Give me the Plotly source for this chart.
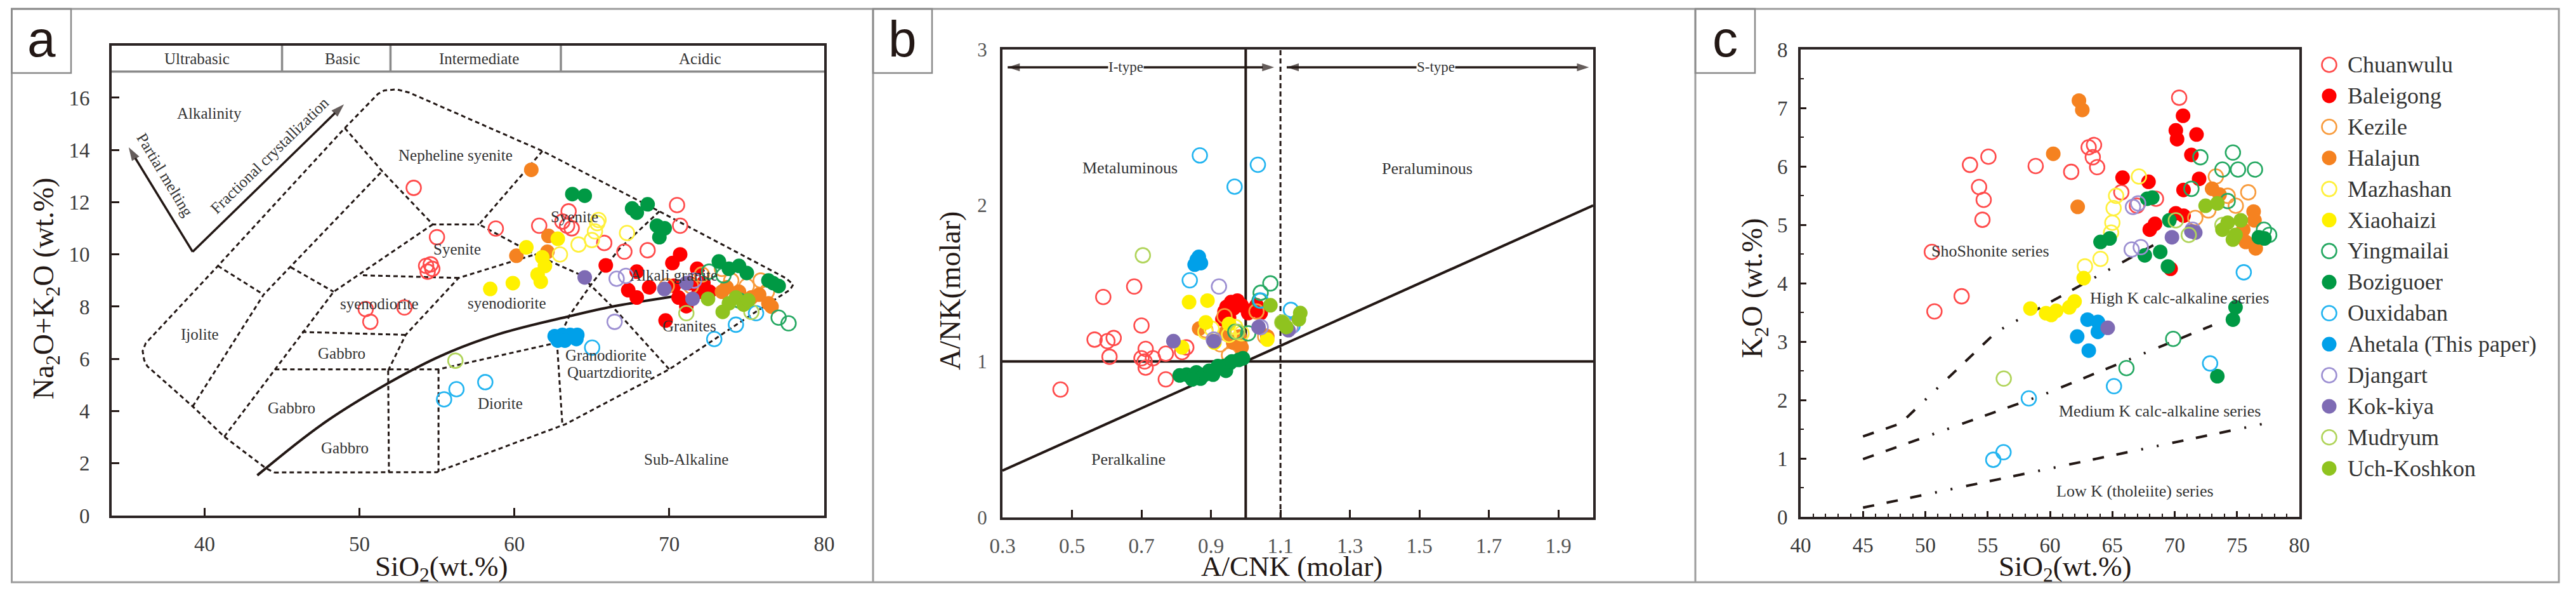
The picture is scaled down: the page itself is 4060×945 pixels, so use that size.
import plotly.graph_objects as go

W, H = 4060, 945
SERIF = "Liberation Serif, Times New Roman, serif"
SANS = "Liberation Sans, Arial, sans-serif"
INK = "#231815"

# ---------------- series meta ----------------
SERIES = ["Chuanwulu", "Baleigong", "Kezile", "Halajun", "Mazhashan", "Xiaohaizi",
          "Yingmailai", "Boziguoer", "Ouxidaban", "Ahetala (This paper)", "Djangart",
          "Kok-kiya", "Mudryum", "Uch-Koshkon"]
COLORS = ["#FF4A4A", "#FF0000", "#F89B3C", "#F58220", "#FFF03C", "#FFF100",
          "#25A862", "#009944", "#22B4F0", "#00A0E9", "#9C8FD2", "#7E6BB4",
          "#B0D45A", "#8FC31F"]
FILLED = [False, True, False, True, False, True, False, True, False, True, False, True, False, True]

# ---------------- panel a : TAS (SiO2 vs Na2O+K2O) ----------------
tas_chuanwulu_x = [53.5, 55.0, 54.3, 54.6, 54.7, 54.4, 50.4, 50.7, 52.9, 58.8, 61.6, 63.5, 63.1, 63.4, 63.7, 65.8, 67.1, 68.6, 70.5, 70.7]
tas_chuanwulu_y = [12.55, 10.66, 9.56, 9.62, 9.45, 9.34, 7.91, 7.42, 7.97, 10.99, 11.1, 11.65, 11.26, 11.1, 11.0, 10.44, 10.11, 10.16, 11.89, 11.1]
tas_baleigong_x = [65.9, 67.35, 67.9, 67.9, 68.7, 70.2, 70.7, 70.3, 70.6, 71.1, 71.8, 72.2, 71.3, 69.76, 72.6, 71.9]
tas_baleigong_y = [9.58, 8.63, 8.35, 9.34, 8.74, 9.67, 10.0, 8.8, 8.35, 8.02, 9.45, 8.9, 8.9, 7.47, 8.57, 8.57]
tas_kezile_x = [69.84, 71.4, 72.1, 73.4, 74.0, 75.9, 75.0, 76.3]
tas_kezile_y = [8.79, 8.79, 9.23, 9.45, 9.0, 9.0, 8.79, 8.57]
tas_halajun_x = [61.09, 60.13, 62.2, 62.13, 73.7, 74.5, 75.3, 75.8, 76.4, 76.6, 73.4]
tas_halajun_y = [13.24, 9.95, 10.71, 10.1, 8.74, 8.57, 8.35, 8.46, 8.13, 8.0, 8.57]
tas_mazhashan_x = [65.35, 65.2, 65.0, 64.14, 62.94, 67.27, 65.43]
tas_mazhashan_y = [11.2, 10.88, 10.55, 10.38, 10.0, 10.82, 11.32]
tas_xiaohaizi_x = [58.44, 59.9, 60.77, 62.8, 61.8, 61.97, 61.5, 61.7]
tas_xiaohaizi_y = [8.68, 8.9, 10.27, 10.6, 9.89, 9.56, 9.23, 8.96]
tas_yingmailai_x = [77.06, 77.7, 74.5, 72.57, 73.5]
tas_yingmailai_y = [7.58, 7.36, 8.24, 9.34, 9.2]
tas_boziguoer_x = [63.74, 64.54, 67.6, 67.9, 68.6, 69.2, 69.7, 69.36, 73.2, 73.85, 74.5, 75.0, 76.4, 77.06, 76.7]
tas_boziguoer_y = [12.31, 12.25, 11.76, 11.6, 11.92, 11.1, 11.0, 10.66, 9.73, 9.45, 9.56, 9.29, 9.0, 8.79, 8.9]
tas_ouxidaban_x = [55.46, 56.26, 58.12, 65.02, 72.9, 74.3, 75.6]
tas_ouxidaban_y = [4.45, 4.84, 5.11, 6.43, 6.76, 7.31, 7.75]
tas_ahetala_x = [62.6, 63.1, 63.6, 64.0, 63.26, 62.8, 64.06]
tas_ahetala_y = [6.87, 6.92, 6.92, 6.76, 6.7, 6.7, 6.92]
tas_djangart_x = [66.47, 66.6, 67.2, 71.6]
tas_djangart_y = [7.42, 9.07, 9.18, 9.0]
tas_kokkiya_x = [64.54, 69.68, 71.5, 71.1]
tas_kokkiya_y = [9.12, 8.68, 8.3, 8.9]
tas_mudryum_x = [56.19, 71.1, 75.3]
tas_mudryum_y = [5.93, 7.75, 7.8]
tas_uchkoshkon_x = [72.5, 73.45, 73.85, 74.3, 74.8, 75.1]
tas_uchkoshkon_y = [8.3, 7.8, 8.13, 8.35, 8.08, 8.24]

# TAS template (Wilson 1989 plutonic) boundaries
tas_outer_x = [44.5, 55.0, 55.4, 63.3, 70.0, 75.3, 77.8, 78.0, 77.5, 69.36, 61.81, 55.23, 53.2, 52.4, 51.6, 51.2,
               49.05, 40.86, 36.2, 36.0, 36.1, 36.3, 39.23, 41.27, 43.96, 44.5]
tas_outer_y = [1.65, 1.66, 1.76, 3.5, 5.6, 7.69, 8.65, 8.85, 9.1, 11.65, 13.96, 15.66, 16.2, 16.32, 16.28, 16.15,
               14.84, 9.56, 6.6, 6.3, 5.95, 5.72, 4.18, 3.02, 1.81, 1.65]
tas_inner_x = [39.23, 43.81, 51.46, None, 40.86, 43.81, None, 49.05, 51.46, 54.73, 57.72, None,
               61.81, 57.72, 61.33, 64.22, 66.47, 70.0, None, 41.27, 48.33, 54.73, None, 45.56, 48.33, None,
               50.22, 56.4, None, 51.85, 52.98, 56.4, 61.33, None, 46.29, 52.98, None,
               44.54, 55.1, 62.75, None, 51.85, 51.9, None, 55.1, 55.1, None,
               69.36, 66.79, 65.02, 63.58, 62.75, 63.1]
tas_inner_y = [4.18, 8.46, 13.19, None, 9.56, 8.46, None, 14.84, 13.19, 11.15, 11.15, None,
               13.96, 11.15, 10.0, 9.23, 7.91, 5.6, None, 3.02, 8.57, 11.15, None, 9.51, 8.57, None,
               9.2, 9.1, None, 5.55, 6.92, 9.1, 10.0, None, 7.03, 6.92, None,
               5.6, 5.6, 6.62, None, 5.55, 1.65, None, 5.6, 1.68, None,
               11.65, 10.22, 8.9, 7.69, 6.62, 3.45]
tas_alkaline_x = [43.4, 47.6, 51.8, 55.2, 59.0, 63.6, 66.3, 70.6]
tas_alkaline_y = [1.54, 3.5, 5.05, 6.1, 6.95, 7.64, 8.0, 8.42]
tas_header_x = [34, 80, None, 45, 45, None, 52, 52, None, 63, 63]
tas_header_y = [17, 17, None, 17, 18, None, 17, 18, None, 17, 18]
tas_header_labels = ["Ultrabasic", "Basic", "Intermediate", "Acidic"]
tas_header_pos = [39.5, 48.9, 57.7, 72.0]
tas_field_labels = ["Alkalinity", "Nepheline syenite", "Syenite", "Syenite", "syenodiorite", "syenodiorite",
                    "Ijolite", "Gabbro", "Gabbro", "Gabbro", "Diorite", "Granodiorite", "Quartzdiorite",
                    "Alkali granite", "Granites", "Sub-Alkaline"]
tas_field_x = [40.3, 56.2, 63.9, 56.3, 51.3, 59.5, 39.7, 48.85, 45.6, 49.05, 59.1, 65.9, 66.15, 70.3, 71.3, 71.1]
tas_field_y = [15.4, 13.8, 11.45, 10.2, 8.1, 8.13, 6.95, 6.21, 4.12, 2.58, 4.29, 6.15, 5.49, 9.2, 7.25, 2.14]
# arrows: partial melting / fractional crystallization (tail -> head)
tas_melt_x = [39.23, 35.1]
tas_melt_y = [10.1, 14.1]
tas_fract_x = [39.23, 49.0]
tas_fract_y = [10.1, 15.75]
tas_ticks_x = [40, 50, 60, 70, 80]
tas_ticks_y = [0, 2, 4, 6, 8, 10, 12, 14, 16]

# ---------------- panel b : A/CNK vs A/NK ----------------
acnk_chuanwulu_x = [0.467, 0.59, 0.679, 0.70, 0.565, 0.62, 0.602, 0.608, 0.712, 0.709, 0.712, 0.733, 0.77, 0.77, 0.829, 0.817, 0.70]
acnk_chuanwulu_y = [0.82, 1.413, 1.48, 1.23, 1.14, 1.15, 1.13, 1.03, 1.08, 1.0, 0.96, 1.02, 1.05, 0.885, 1.09, 1.06, 1.02]
acnk_baleigong_x = [0.939, 0.958, 0.976, 0.988, 1.019, 1.043, 0.952, 0.933, 1.031, 1.007, 0.965, 0.945]
acnk_baleigong_y = [1.32, 1.38, 1.39, 1.36, 1.33, 1.31, 1.28, 1.27, 1.36, 1.31, 1.34, 1.35]
acnk_kezile_x = [0.884, 0.939, 1.031, 0.952, 0.927, 0.982, 1.056]
acnk_kezile_y = [1.2, 1.29, 1.32, 1.04, 1.11, 1.13, 1.16]
acnk_halajun_x = [0.866, 1.062, 0.964, 0.988, 0.939, 0.982]
acnk_halajun_y = [1.21, 1.16, 1.12, 1.09, 1.18, 1.16]
acnk_mazhashan_x = [0.884, 0.902, 0.97, 0.952, 0.988]
acnk_mazhashan_y = [1.19, 1.21, 1.22, 1.17, 1.18]
acnk_xiaohaizi_x = [0.837, 0.89, 0.885, 0.817, 1.062, 0.952, 0.91]
acnk_xiaohaizi_y = [1.38, 1.39, 1.25, 1.09, 1.14, 1.24, 1.12]
acnk_yingmailai_x = [1.071, 1.043, 1.04, 1.007, 0.97]
acnk_yingmailai_y = [1.5, 1.44, 1.39, 1.18, 1.19]
acnk_boziguoer_x = [0.81, 0.83, 0.858, 0.882, 0.895, 0.919, 0.937, 0.955, 0.98, 0.992, 0.87, 0.906, 0.943, 0.846, 0.96, 0.92]
acnk_boziguoer_y = [0.91, 0.915, 0.93, 0.915, 0.94, 0.955, 0.97, 0.99, 1.01, 1.02, 0.89, 0.915, 0.94, 0.885, 1.0, 0.97]
acnk_ouxidaban_x = [0.868, 1.035, 0.968, 0.839, 1.13, 1.135, 1.043]
acnk_ouxidaban_y = [2.32, 2.26, 2.12, 1.52, 1.33, 1.23, 1.39]
acnk_ahetala_x = [0.859, 0.871, 0.853, 0.865]
acnk_ahetala_y = [1.65, 1.63, 1.62, 1.67]
acnk_djangart_x = [0.923, 1.129, 0.908, 1.043]
acnk_djangart_y = [1.48, 1.22, 1.14, 1.22]
acnk_kokkiya_x = [0.792, 0.908, 1.037, 1.123]
acnk_kokkiya_y = [1.13, 1.13, 1.22, 1.2]
acnk_mudryum_x = [0.704, 1.105, 0.976]
acnk_mudryum_y = [1.68, 1.25, 1.19]
acnk_uchkoshkon_x = [1.071, 1.157, 1.153, 1.105, 1.117]
acnk_uchkoshkon_y = [1.36, 1.31, 1.27, 1.25, 1.22]

shand_solid_x = [0.3, 2.0, None, 1.0, 1.0, None, 0.3, 2.0]
shand_solid_y = [1.0, 1.0, None, 0.0, 3.0, None, 0.3, 2.0]
shand_dash_x = [1.1, 1.1]
shand_dash_y = [0.0, 3.0]
shand_arrow_y = 2.885
shand_itype = [0.655, 0.315, 1.082]   # label centre, left head, right head
shand_stype = [1.547, 1.118, 1.988]
shand_ticks_x = [0.3, 0.5, 0.7, 0.9, 1.1, 1.3, 1.5, 1.7, 1.9]
shand_ticks_y = [0, 1, 2, 3]
shand_labels = ["Metaluminous", "Peraluminous", "Peralkaline"]
shand_label_x = [0.667, 1.522, 0.663]
shand_label_y = [2.24, 2.235, 0.373]

# ---------------- panel c : SiO2 vs K2O ----------------
k2o_chuanwulu_x = [70.36, 55.06, 53.58, 54.31, 54.68, 54.58, 50.52, 52.91, 50.73, 58.85, 61.7, 63.53, 63.1, 63.43, 63.78, 65.72, 68.5, 66.97]
k2o_chuanwulu_y = [7.18, 6.17, 6.03, 5.65, 5.43, 5.09, 4.54, 3.78, 3.52, 6.01, 5.91, 6.37, 6.33, 6.16, 5.99, 5.56, 5.45, 5.33]
k2o_baleigong_x = [70.67, 70.09, 70.19, 71.75, 71.34, 65.82, 67.9, 71.96, 70.71, 68.0, 68.42, 70.09, 70.71, 69.67]
k2o_baleigong_y = [6.87, 6.62, 6.47, 6.55, 6.2, 5.81, 5.74, 5.79, 5.6, 4.92, 5.02, 5.2, 5.16, 4.25]
k2o_kezile_x = [73.3, 75.9, 74.9, 74.25, 72.7, 71.65]
k2o_kezile_y = [5.83, 5.56, 5.33, 5.5, 5.25, 5.12]
k2o_halajun_x = [62.32, 62.59, 60.26, 62.22, 73.0, 73.6, 76.33, 76.4, 75.5, 75.7, 76.5, 74.9]
k2o_halajun_y = [7.13, 6.97, 6.22, 5.31, 5.62, 5.52, 5.23, 5.08, 4.92, 4.71, 4.6, 4.79]
k2o_mazhashan_x = [67.13, 65.3, 65.1, 65.0, 64.9, 64.05, 62.8]
k2o_mazhashan_y = [5.83, 5.5, 5.29, 5.04, 4.87, 4.42, 4.29]
k2o_xiaohaizi_x = [62.7, 58.43, 59.68, 60.5, 61.55, 61.97, 60.1]
k2o_xiaohaizi_y = [4.09, 3.57, 3.49, 3.53, 3.59, 3.69, 3.46]
k2o_yingmailai_x = [74.67, 73.83, 75.08, 76.44, 72.06, 71.34, 74.25, 77.16, 77.58, 69.88, 66.13]
k2o_yingmailai_y = [6.24, 5.95, 5.95, 5.95, 6.16, 5.62, 5.41, 4.92, 4.83, 3.05, 2.55]
k2o_boziguoer_x = [64.05, 64.78, 67.8, 68.2, 69.57, 68.84, 67.6, 69.46, 74.88, 74.67, 73.42, 76.75, 77.2]
k2o_boziguoer_y = [4.71, 4.77, 5.45, 5.47, 5.08, 4.54, 4.48, 4.29, 3.59, 3.38, 2.41, 4.79, 4.77]
k2o_ouxidaban_x = [75.54, 72.84, 65.13, 58.3, 55.45, 56.27]
k2o_ouxidaban_y = [4.19, 2.63, 2.24, 2.03, 0.98, 1.11]
k2o_ahetala_x = [63.01, 63.84, 63.84, 62.18, 63.11]
k2o_ahetala_y = [3.38, 3.34, 3.17, 3.09, 2.85]
k2o_djangart_x = [66.65, 67.07, 66.55, 67.28, 71.44]
k2o_djangart_y = [5.31, 5.37, 4.58, 4.62, 4.92]
k2o_kokkiya_x = [64.63, 69.78, 71.34, 71.65]
k2o_kokkiya_y = [3.24, 4.79, 4.89, 4.87]
k2o_mudryum_x = [56.29, 71.13, 70.09, 73.83]
k2o_mudryum_y = [2.37, 4.83, 5.08, 5.0]
k2o_uchkoshkon_x = [72.48, 73.42, 73.83, 74.25, 74.67, 74.88, 75.3]
k2o_uchkoshkon_y = [5.33, 5.37, 4.92, 5.04, 4.75, 4.83, 5.08]

pt_shoshonite_x = [45, 48, 55.7, 68.5]
pt_shoshonite_y = [1.38, 1.6, 3.17, 4.68]
pt_highk_x = [45, 59.3, 73.0]
pt_highk_y = [0.99, 2.08, 3.28]
pt_lowk_x = [45, 77.2]
pt_lowk_y = [0.16, 1.6]
pt_labels = ["ShoShonite series", "High K calc-alkaline series", "Medium K calc-alkaline series", "Low K (tholeiite) series"]
pt_label_x = [55.2, 70.4, 68.8, 66.8]
pt_label_y = [4.55, 3.75, 1.81, 0.44]
k2o_ticks_x = [40, 45, 50, 55, 60, 65, 70, 75, 80]
k2o_ticks_y = [0, 1, 2, 3, 4, 5, 6, 7, 8]

TAS = [(tas_chuanwulu_x, tas_chuanwulu_y), (tas_baleigong_x, tas_baleigong_y), (tas_kezile_x, tas_kezile_y),
       (tas_halajun_x, tas_halajun_y), (tas_mazhashan_x, tas_mazhashan_y), (tas_xiaohaizi_x, tas_xiaohaizi_y),
       (tas_yingmailai_x, tas_yingmailai_y), (tas_boziguoer_x, tas_boziguoer_y), (tas_ouxidaban_x, tas_ouxidaban_y),
       (tas_ahetala_x, tas_ahetala_y), (tas_djangart_x, tas_djangart_y), (tas_kokkiya_x, tas_kokkiya_y),
       (tas_mudryum_x, tas_mudryum_y), (tas_uchkoshkon_x, tas_uchkoshkon_y)]
ACNK = [(acnk_chuanwulu_x, acnk_chuanwulu_y), (acnk_baleigong_x, acnk_baleigong_y), (acnk_kezile_x, acnk_kezile_y),
        (acnk_halajun_x, acnk_halajun_y), (acnk_mazhashan_x, acnk_mazhashan_y), (acnk_xiaohaizi_x, acnk_xiaohaizi_y),
        (acnk_yingmailai_x, acnk_yingmailai_y), (acnk_boziguoer_x, acnk_boziguoer_y), (acnk_ouxidaban_x, acnk_ouxidaban_y),
        (acnk_ahetala_x, acnk_ahetala_y), (acnk_djangart_x, acnk_djangart_y), (acnk_kokkiya_x, acnk_kokkiya_y),
        (acnk_mudryum_x, acnk_mudryum_y), (acnk_uchkoshkon_x, acnk_uchkoshkon_y)]
K2O = [(k2o_chuanwulu_x, k2o_chuanwulu_y), (k2o_baleigong_x, k2o_baleigong_y), (k2o_kezile_x, k2o_kezile_y),
       (k2o_halajun_x, k2o_halajun_y), (k2o_mazhashan_x, k2o_mazhashan_y), (k2o_xiaohaizi_x, k2o_xiaohaizi_y),
       (k2o_yingmailai_x, k2o_yingmailai_y), (k2o_boziguoer_x, k2o_boziguoer_y), (k2o_ouxidaban_x, k2o_ouxidaban_y),
       (k2o_ahetala_x, k2o_ahetala_y), (k2o_djangart_x, k2o_djangart_y), (k2o_kokkiya_x, k2o_kokkiya_y),
       (k2o_mudryum_x, k2o_mudryum_y), (k2o_uchkoshkon_x, k2o_uchkoshkon_y)]


def PX(px):
    return px / W


def PY(py):
    return 1 - py / H


def marker(i, size=22):
    c = COLORS[i]
    if FILLED[i]:
        return dict(symbol="circle", size=size, color=c, line=dict(width=0))
    return dict(symbol="circle-open", size=size, color=c, line=dict(width=2.6, color=c))


def arrow_trace(xs, ys, axx, axy, head=22, width=3.5):
    return go.Scatter(x=xs, y=ys, mode="lines+markers", xaxis=axx, yaxis=axy, hoverinfo="skip",
                      line=dict(color=INK, width=width),
                      marker=dict(symbol="arrow", size=[0, head], angleref="previous", color=INK,
                                  line=dict(width=0)))


fig = go.Figure()

# ---- panel a template
fig.add_trace(go.Scatter(x=tas_header_x, y=tas_header_y, mode="lines", line=dict(color="#8a8a8a", width=3.5),
                         xaxis="x", yaxis="y", hoverinfo="skip"))
fig.add_trace(go.Scatter(x=tas_outer_x, y=tas_outer_y, mode="lines", line=dict(color=INK, width=3, dash="7px,5px"),
                         xaxis="x", yaxis="y", hoverinfo="skip"))
fig.add_trace(go.Scatter(x=tas_inner_x, y=tas_inner_y, mode="lines", line=dict(color=INK, width=3, dash="7px,5px"),
                         xaxis="x", yaxis="y", hoverinfo="skip"))
fig.add_trace(go.Scatter(x=tas_alkaline_x, y=tas_alkaline_y, mode="lines", line=dict(color=INK, width=4, shape="spline"),
                         xaxis="x", yaxis="y", hoverinfo="skip"))
fig.add_trace(arrow_trace(tas_melt_x, tas_melt_y, "x", "y"))
fig.add_trace(arrow_trace(tas_fract_x, tas_fract_y, "x", "y"))
# ---- panel b template
fig.add_trace(go.Scatter(x=shand_solid_x, y=shand_solid_y, mode="lines", line=dict(color=INK, width=4),
                         xaxis="x2", yaxis="y2", hoverinfo="skip"))
fig.add_trace(go.Scatter(x=shand_dash_x, y=shand_dash_y, mode="lines", line=dict(color=INK, width=3, dash="8px,5px"),
                         xaxis="x2", yaxis="y2", hoverinfo="skip"))
for c, l, r in [shand_itype, shand_stype]:
    fig.add_trace(arrow_trace([c, l], [shand_arrow_y] * 2, "x2", "y2", head=20))
    fig.add_trace(arrow_trace([c, r], [shand_arrow_y] * 2, "x2", "y2", head=20))
# ---- panel c template
pt_dash = "18px,20px,18px,20px,18px,22px,3px,22px,3px,22px"
for xs, ys in [(pt_shoshonite_x, pt_shoshonite_y), (pt_highk_x, pt_highk_y), (pt_lowk_x, pt_lowk_y)]:
    fig.add_trace(go.Scatter(x=xs, y=ys, mode="lines", line=dict(color=INK, width=4, dash=pt_dash),
                             xaxis="x3", yaxis="y3", hoverinfo="skip"))

# ---- data points
for axx, axy, data in [("x", "y", TAS), ("x2", "y2", ACNK), ("x3", "y3", K2O)]:
    for i, (xs, ys) in enumerate(data):
        fig.add_trace(go.Scatter(x=xs, y=ys, mode="markers", name=SERIES[i], marker=marker(i, 23),
                                 xaxis=axx, yaxis=axy))

# ---- legend (drawn in a pixel-unit helper axis)
leg_x0, leg_text_x, leg_y0, leg_dy = 3671, 3698, 102, 48.9
leg_y = [leg_y0 + leg_dy * i for i in range(len(SERIES))]
fig.add_trace(go.Scatter(
    x=[leg_x0] * len(SERIES), y=leg_y, mode="markers", xaxis="x4", yaxis="y4", hoverinfo="skip",
    marker=dict(symbol=["circle" if f else "circle-open" for f in FILLED], size=23, color=COLORS,
                line=dict(width=[0 if f else 2.6 for f in FILLED], color=COLORS))))

ann = []
for name, yy in zip(SERIES, leg_y):
    ann.append(dict(x=leg_text_x, y=yy, xref="x4", yref="y4", text=name, showarrow=False, xanchor="left",
                    yanchor="middle", font=dict(family=SERIF, size=36, color="#333333")))

# panel a texts
for t, xx, yy in zip(tas_header_labels, tas_header_pos, [17.5] * 4):
    ann.append(dict(x=xx, y=yy, xref="x", yref="y", text=t, showarrow=False,
                    font=dict(family=SERIF, size=25, color="#333333")))
for t, xx, yy in zip(tas_field_labels, tas_field_x, tas_field_y):
    ann.append(dict(x=xx, y=yy, xref="x", yref="y", text=t, showarrow=False,
                    font=dict(family=SERIF, size=25, color="#333333")))
ann.append(dict(x=37.45, y=13.05, xref="x", yref="y", text="Partial melting", textangle=59, showarrow=False,
                font=dict(family=SERIF, size=25, color="#333333")))
ann.append(dict(x=44.2, y=13.8, xref="x", yref="y", text="Fractional crystallization", textangle=-44.4,
                showarrow=False, font=dict(family=SERIF, size=25, color="#333333")))

# panel b texts
for t, xx in [("I-type", shand_itype[0]), ("S-type", shand_stype[0])]:
    ann.append(dict(x=xx, y=shand_arrow_y, xref="x2", yref="y2", text=t, showarrow=False, bgcolor="white",
                    borderpad=0, font=dict(family=SERIF, size=23, color="#333333")))
for t, xx, yy in zip(shand_labels, shand_label_x, shand_label_y):
    ann.append(dict(x=xx, y=yy, xref="x2", yref="y2", text=t, showarrow=False,
                    font=dict(family=SERIF, size=26, color="#333333")))

# panel c texts
for t, xx, yy in zip(pt_labels, pt_label_x, pt_label_y):
    ann.append(dict(x=xx, y=yy, xref="x3", yref="y3", text=t, showarrow=False,
                    font=dict(family=SERIF, size=26, color="#333333")))

# axis titles (top of text box placed just below the tick labels)
titles = [("SiO<sub>2</sub>(wt.%)", 696, 865, 0), ("A/CNK (molar)", 2036, 865, 0),
          ("SiO<sub>2</sub>(wt.%)", 3255, 865, 0)]
for t, px, py, ang in titles:
    ann.append(dict(x=PX(px), y=PY(py), xref="paper", yref="paper", text=t, showarrow=False,
                    xanchor="center", yanchor="top", font=dict(family=SERIF, size=45, color=INK)))
ytitles = [("Na<sub>2</sub>O+K<sub>2</sub>O (wt.%)", 72, 455), ("A/NK(molar)", 1497, 458),
           ("K<sub>2</sub>O (wt.%)", 2765, 454)]
for t, px, py in ytitles:
    ann.append(dict(x=PX(px), y=PY(py), xref="paper", yref="paper", text=t, showarrow=False, textangle=-90,
                    xanchor="center", yanchor="middle", font=dict(family=SERIF, size=46, color=INK)))

# panel letters
for t, x0, x1 in [("a", 18.5, 112), ("b", 1376, 1469), ("c", 2672, 2766)]:
    ann.append(dict(x=PX((x0 + x1) / 2), y=PY(62), xref="paper", yref="paper", text=t, showarrow=False,
                    xanchor="center", yanchor="middle", font=dict(family=SANS, size=80, color=INK)))

shapes = []
GREY = "#9c9c9c"
shapes.append(dict(type="rect", xref="paper", yref="paper", x0=PX(18.5), x1=PX(4033), y0=PY(917), y1=PY(14),
                   line=dict(color=GREY, width=3)))
for xv in [1376, 2672]:
    shapes.append(dict(type="line", xref="paper", yref="paper", x0=PX(xv), x1=PX(xv), y0=PY(917), y1=PY(14),
                       line=dict(color=GREY, width=3)))
for x0, x1 in [(18.5, 112), (1376, 1469), (2672, 2766)]:
    shapes.append(dict(type="rect", xref="paper", yref="paper", x0=PX(x0), x1=PX(x1), y0=PY(115), y1=PY(14),
                       line=dict(color="#8a8a8a", width=2.5)))

tickfont_a = dict(family=SERIF, size=33, color="#3a3a3a")
axis_common = dict(showgrid=False, zeroline=False, showline=True, mirror=True, linecolor="#2b2424", linewidth=4,
                   ticks="inside", tickcolor=INK, tickwidth=3, automargin=False)

fig.update_layout(
    width=W, height=H, autosize=False,
    margin=dict(l=0, r=0, t=0, b=0, pad=0, autoexpand=False),
    paper_bgcolor="white", plot_bgcolor="rgba(0,0,0,0)",
    showlegend=False, annotations=ann, shapes=shapes,
    xaxis=dict(domain=[PX(176), PX(1299)], range=[34, 80], anchor="y", tickvals=tas_ticks_x, ticklen=12,
               tickfont=tickfont_a, ticklabelstandoff=12, **axis_common),
    yaxis=dict(domain=[PY(812), PY(71.7)], range=[0, 18], anchor="x", tickvals=tas_ticks_y, ticklen=12,
               tickfont=tickfont_a, ticklabelstandoff=24, **axis_common),
    xaxis2=dict(domain=[PX(1580), PX(2511)], range=[0.3, 2.0], anchor="y2", tickvals=shand_ticks_x,
                ticktext=["%.1f" % v for v in shand_ticks_x], ticklen=12,
                tickfont=dict(family=SERIF, size=33, color="#555555"), ticklabelstandoff=12, **axis_common),
    yaxis2=dict(domain=[PY(815), PY(77.7)], range=[0, 3], anchor="x2", tickvals=shand_ticks_y, ticklen=0,
                tickfont=dict(family=SERIF, size=31, color="#555555"), ticklabelstandoff=14, **axis_common),
    xaxis3=dict(domain=[PX(2838), PX(3624)], range=[40, 80], anchor="y3", tickvals=k2o_ticks_x, ticklen=9,
                minor=dict(ticks="inside", dtick=1, ticklen=5, tickwidth=2, tickcolor=INK),
                tickfont=dict(family=SERIF, size=33, color="#3a3a3a"), ticklabelstandoff=12, **axis_common),
    yaxis3=dict(domain=[PY(814.3), PY(78.4)], range=[0, 8], anchor="x3", tickvals=k2o_ticks_y, ticklen=9,
                minor=dict(ticks="inside", dtick=0.5, ticklen=5, tickwidth=2, tickcolor=INK),
                tickfont=dict(family=SERIF, size=33, color="#3a3a3a"), ticklabelstandoff=10, **axis_common),
    xaxis4=dict(domain=[PX(3640), PX(4030)], range=[3640, 4030], anchor="y4", visible=False, automargin=False),
    yaxis4=dict(domain=[PY(770), PY(70)], range=[770, 70], anchor="x4", visible=False, automargin=False),
)

fig.write_html("out.html", config={"displayModeBar": False},
               post_script="document.body.style.margin='0';document.body.style.overflow='hidden';")
